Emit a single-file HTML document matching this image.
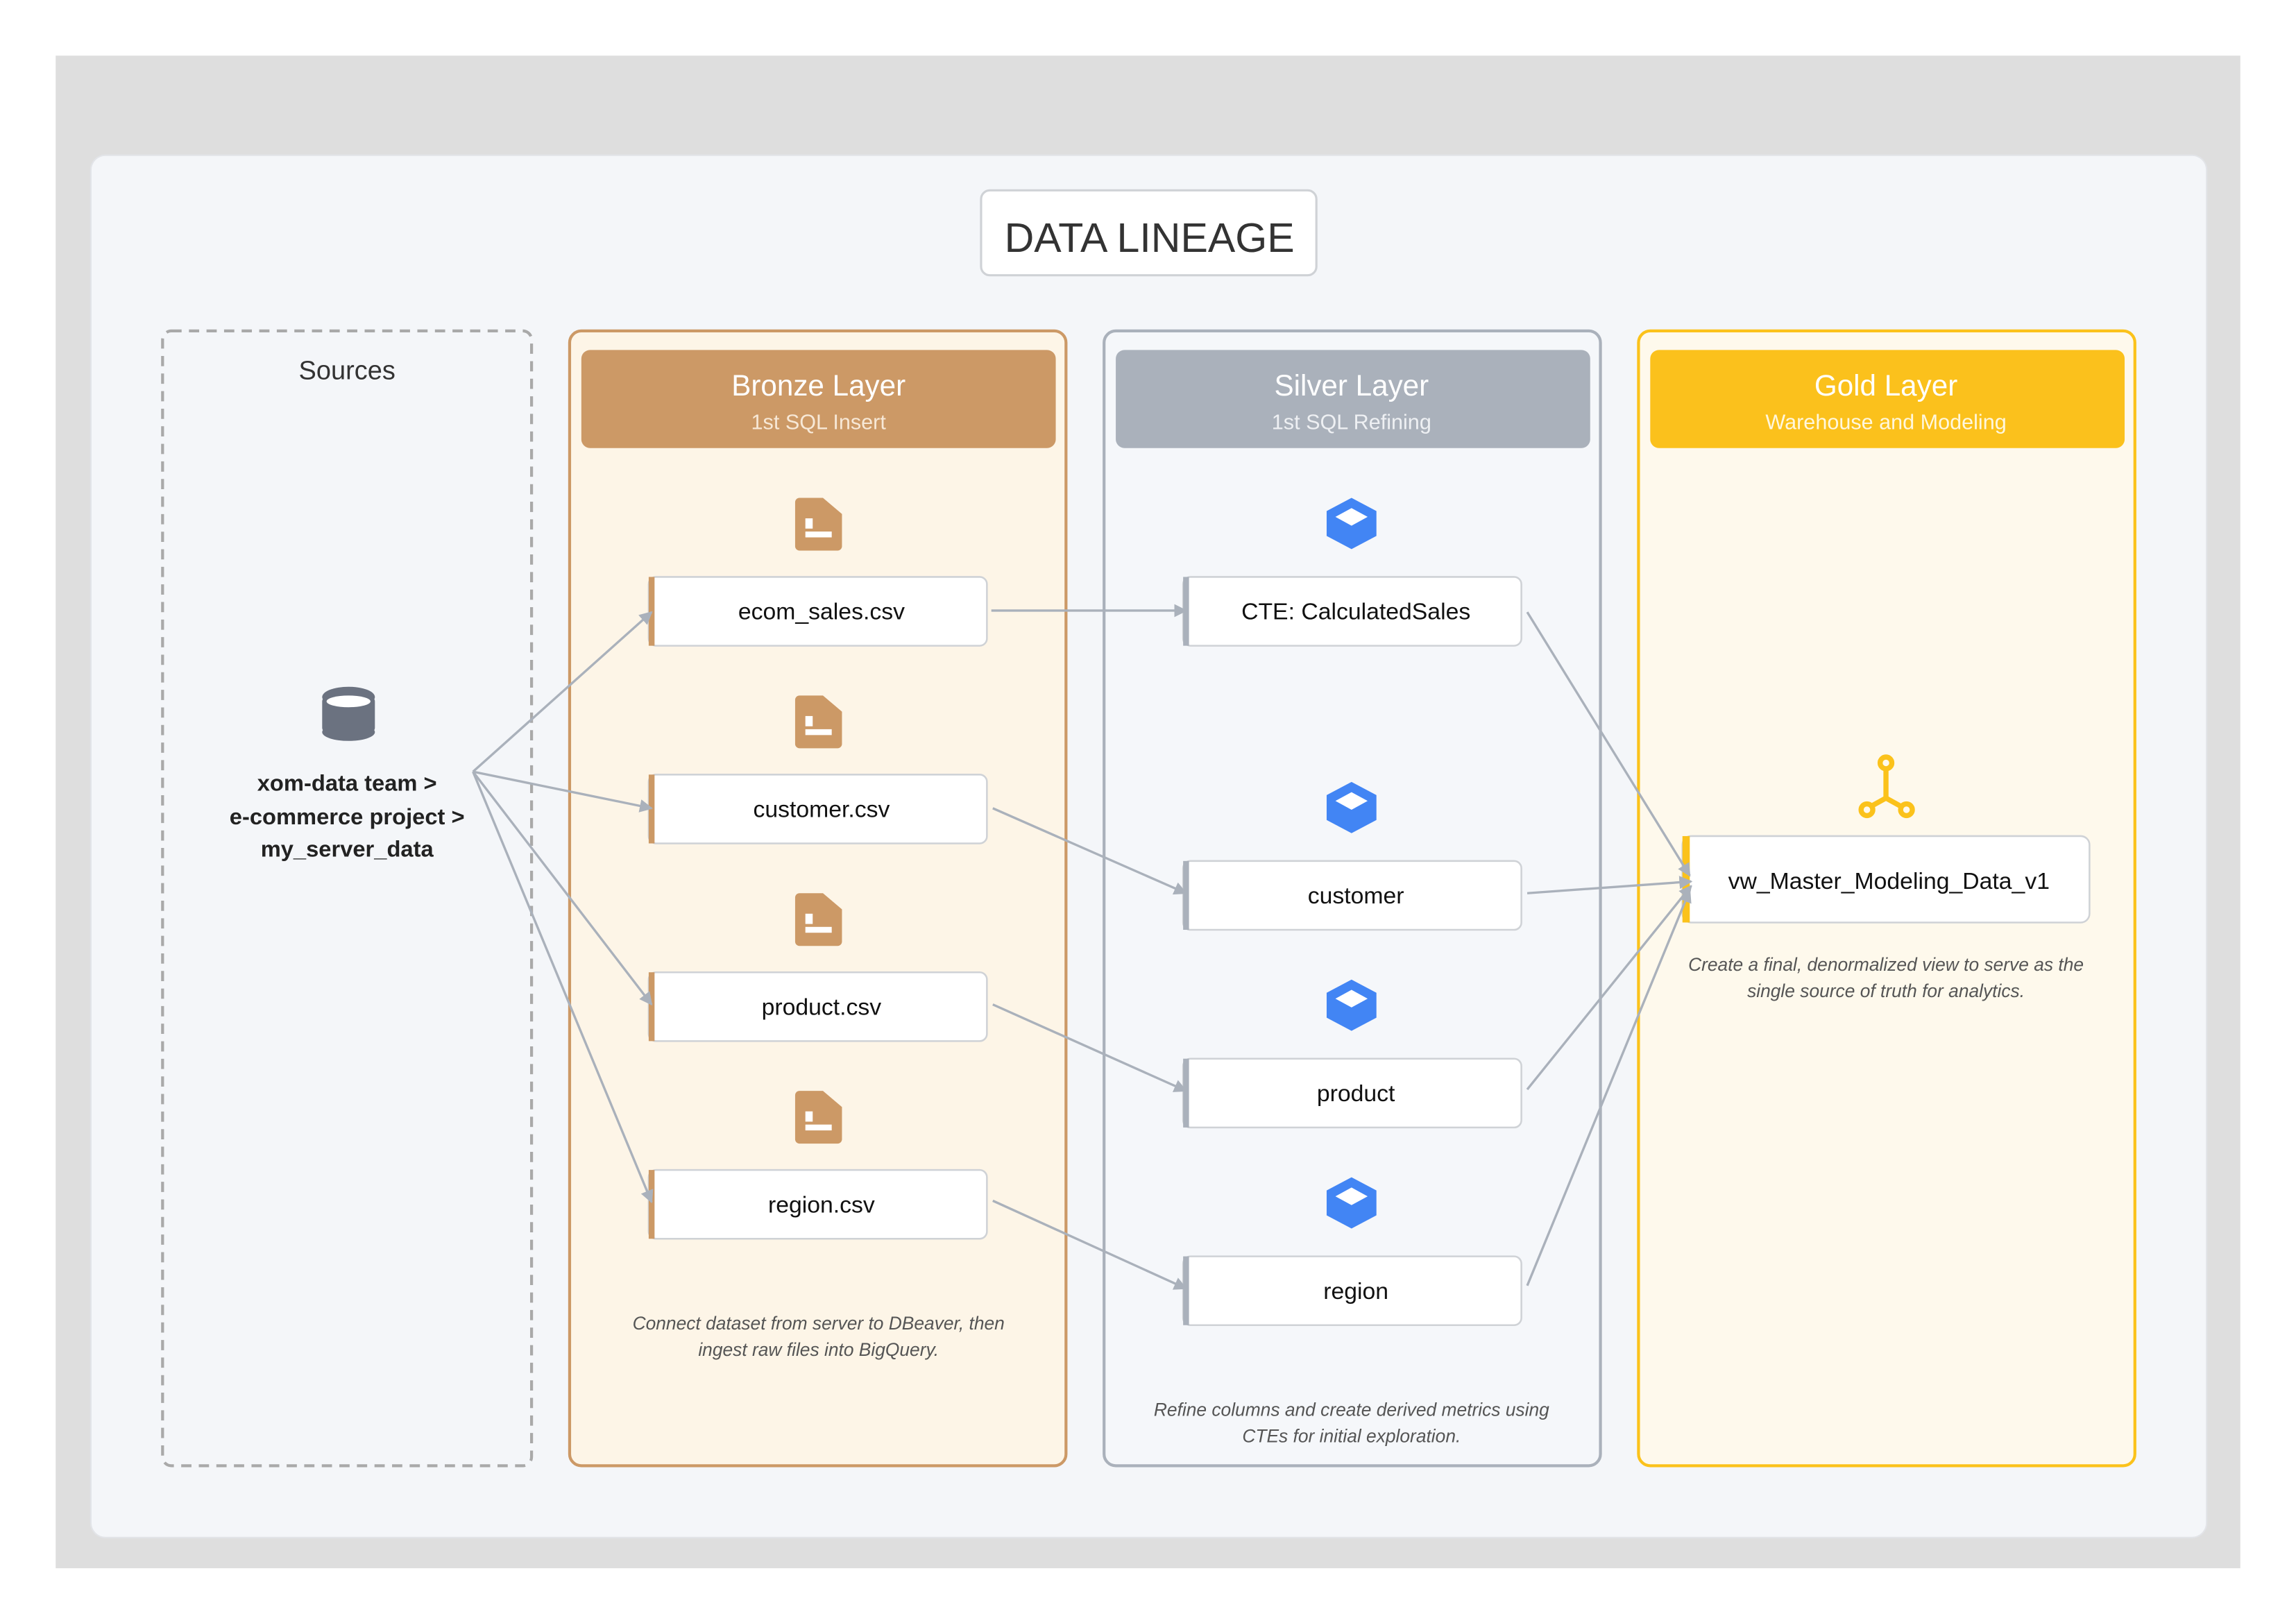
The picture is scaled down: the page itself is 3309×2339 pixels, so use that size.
<!DOCTYPE html>
<html><head><meta charset="utf-8"><style>
html,body{margin:0;padding:0;background:#fff;}
svg{display:block;font-family:"Liberation Sans",sans-serif;}
</style></head><body>
<svg width="3309" height="2339" viewBox="0 0 1568 1108.4" xmlns="http://www.w3.org/2000/svg">
<defs>
<marker id="ar" viewBox="0 0 10 10" refX="9" refY="5" markerWidth="9" markerHeight="9" markerUnits="userSpaceOnUse" orient="auto">
<path d="M0,0 L10,5 L0,10 z" fill="#aab1bb"/></marker>
<g id="file"><path d="M-16,-15 a3,3 0 0 1 3,-3 h16 l13,11 v22 a3,3 0 0 1 -3,3 h-26 a3,3 0 0 1 -3,-3z" fill="#cc9966"/><rect x="-9" y="-4" width="5" height="7" fill="#fff"/><rect x="-9" y="5" width="18" height="4" fill="#fff"/></g>
<g id="cube"><path d="M0,-17 L17,-8 V9 L0,18 L-17,9 V-8z" fill="#4285f4"/><path d="M0,-10 L11,-4 L0,2 L-11,-4z" fill="#fff"/></g>
</defs>
<rect x="38" y="38" width="1492" height="1033" fill="#dedede"/>
<rect x="62" y="106" width="1445" height="944" rx="10" fill="#f4f6f9" stroke="#e2e4e8"/>
<rect x="670" y="130" width="229" height="58" rx="6" fill="#fff" stroke="#cfd2d6" stroke-width="1.5"/>
<text x="785" y="172" font-size="28" text-anchor="middle" fill="#333">DATA LINEAGE</text>

<rect x="111" y="226" width="252" height="775" rx="6" fill="none" stroke="#a9a9a9" stroke-width="2" stroke-dasharray="7,5"/>
<text x="237" y="259" font-size="18" text-anchor="middle" fill="#333">Sources</text>
<g fill="#6b7280"><rect x="220" y="476" width="36" height="24" rx="3"/><ellipse cx="238" cy="500" rx="18" ry="6"/><ellipse cx="238" cy="476" rx="18" ry="7"/></g>
<ellipse cx="238" cy="479" rx="15" ry="4" fill="#fff"/>
<g font-size="15.5" text-anchor="middle" fill="#222" font-weight="bold" style="font-weight:600">
<text x="237" y="540">xom-data team &gt;</text><text x="237" y="563">e-commerce project &gt;</text><text x="237" y="585">my_server_data</text></g>

<rect x="389" y="226" width="339" height="775" rx="8" fill="#fdf5e7" stroke="#cc9966" stroke-width="2"/>
<rect x="397" y="239" width="324" height="67" rx="6" fill="#cc9966"/>
<text x="559" y="270" font-size="20" text-anchor="middle" fill="#fff">Bronze Layer</text>
<text x="559" y="293" font-size="14.5" text-anchor="middle" fill="#f7e8d6">1st SQL Insert</text>

<rect x="754" y="226" width="339" height="775" rx="8" fill="#f5f7fa" stroke="#aab1bb" stroke-width="2"/>
<rect x="762" y="239" width="324" height="67" rx="6" fill="#aab1bb"/>
<text x="923" y="270" font-size="20" text-anchor="middle" fill="#fff">Silver Layer</text>
<text x="923" y="293" font-size="14.5" text-anchor="middle" fill="#eef0f3">1st SQL Refining</text>

<rect x="1119" y="226" width="339" height="775" rx="8" fill="#fef9ec" stroke="#fbc21b" stroke-width="2"/>
<rect x="1127" y="239" width="324" height="67" rx="6" fill="#fbc11c"/>
<text x="1288" y="270" font-size="20" text-anchor="middle" fill="#fff">Gold Layer</text>
<text x="1288" y="293" font-size="14.5" text-anchor="middle" fill="#fff7dd">Warehouse and Modeling</text>

<use href="#file" x="559" y="358"/><use href="#file" x="559" y="493"/><use href="#file" x="559" y="628"/><use href="#file" x="559" y="763"/>
<use href="#cube" x="923" y="357"/><use href="#cube" x="923" y="551"/><use href="#cube" x="923" y="686"/><use href="#cube" x="923" y="821"/>

<g stroke="#fbc21b" stroke-width="3.5" fill="none" stroke-linecap="round">
<circle cx="1288" cy="521" r="4"/><line x1="1288" y1="525" x2="1288" y2="545"/><line x1="1288" y1="545" x2="1279" y2="550"/><line x1="1288" y1="545" x2="1297" y2="550"/>
<circle cx="1275" cy="553" r="4"/><circle cx="1302" cy="553" r="4"/></g>

<g font-size="16" text-anchor="middle" fill="#111">
<g stroke="#cfd2d6" fill="#fff" stroke-width="1.2">
<rect x="443" y="394" width="231" height="47" rx="5"/><rect x="443" y="529" width="231" height="47" rx="5"/>
<rect x="443" y="664" width="231" height="47" rx="5"/><rect x="443" y="799" width="231" height="47" rx="5"/>
<rect x="808" y="394" width="231" height="47" rx="5"/><rect x="808" y="588" width="231" height="47" rx="5"/>
<rect x="808" y="723" width="231" height="47" rx="5"/><rect x="808" y="858" width="231" height="47" rx="5"/>
<rect x="1149" y="571" width="278" height="59" rx="6"/></g>
<g fill="#cc9966"><rect x="443" y="394" width="4" height="47"/><rect x="443" y="529" width="4" height="47"/><rect x="443" y="664" width="4" height="47"/><rect x="443" y="799" width="4" height="47"/></g>
<g fill="#aab1bb"><rect x="808" y="394" width="4" height="47"/><rect x="808" y="588" width="4" height="47"/><rect x="808" y="723" width="4" height="47"/><rect x="808" y="858" width="4" height="47"/></g>
<rect x="1149" y="571" width="5" height="59" fill="#fbc21b"/>
<text x="561" y="423">ecom_sales.csv</text><text x="561" y="558">customer.csv</text><text x="561" y="693">product.csv</text><text x="561" y="828">region.csv</text>
<text x="926" y="423">CTE: CalculatedSales</text><text x="926" y="617">customer</text><text x="926" y="752">product</text><text x="926" y="887">region</text>
<text x="1290" y="607">vw_Master_Modeling_Data_v1</text>
</g>

<g font-size="12.5" font-style="italic" text-anchor="middle" fill="#555">
<text x="559" y="908">Connect dataset from server to DBeaver, then</text><text x="559" y="926">ingest raw files into BigQuery.</text>
<text x="923" y="967">Refine columns and create derived metrics using</text><text x="923" y="985">CTEs for initial exploration.</text>
<text x="1288" y="663">Create a final, denormalized view to serve as the</text><text x="1288" y="681">single source of truth for analytics.</text>
</g>

<g stroke="#aab1bb" stroke-width="1.6" fill="none" marker-end="url(#ar)">
<line x1="323" y1="527" x2="445" y2="418"/><line x1="323" y1="527" x2="445" y2="552"/>
<line x1="323" y1="527" x2="445" y2="686"/><line x1="323" y1="527" x2="445" y2="821"/>
<line x1="677" y1="417" x2="810" y2="417"/><line x1="678" y1="552" x2="810" y2="610"/>
<line x1="678" y1="686" x2="810" y2="745"/><line x1="678" y1="820" x2="810" y2="880"/>
<line x1="1043" y1="418" x2="1154" y2="598"/><line x1="1043" y1="610" x2="1155" y2="602"/>
<line x1="1043" y1="744" x2="1155" y2="605"/><line x1="1043" y1="878" x2="1154" y2="608"/>
</g>
</svg>
</body></html>
